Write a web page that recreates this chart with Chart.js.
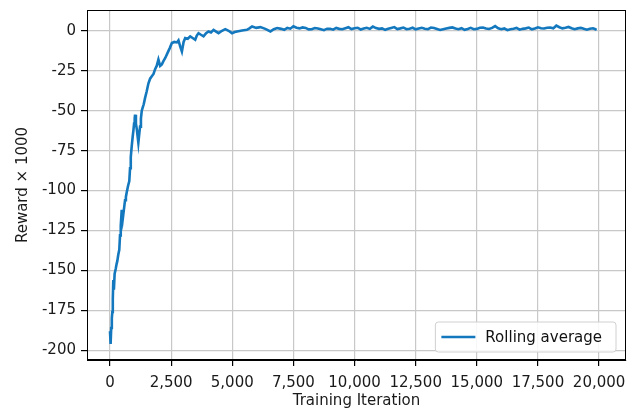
<!DOCTYPE html>
<html>
<head>
<meta charset="utf-8">
<script src="https://cdn.jsdelivr.net/npm/chart.js@4"></script>
<style>
  html, body { margin: 0; padding: 0; background: #fff; }
  #wrap { width: 638px; height: 414px; }
</style>
</head>
<body>
<div id="wrap"><canvas id="reward"></canvas></div>
<script>
// training iterations and the rolling average reward (x1000)
const iterations = [
  0, 25, 50, 75, 95, 115, 135, 160, 190, 233, 270, 300, 340, 380, 410, 440, 480, 520, 560, 615,
  650, 685, 740, 790, 820, 850, 890, 930, 960, 985, 1010, 1025, 1060, 1100, 1130, 1160, 1200, 1230, 1265, 1300,
  1340, 1380, 1435, 1500, 1570, 1640, 1710, 1780, 1845, 1910, 1980, 2050, 2120, 2185, 2260, 2350, 2440, 2530, 2630, 2735,
  2800, 2870, 2940, 3010, 3075, 3180, 3280, 3380, 3485, 3550, 3620, 3720, 3825, 3930, 4030, 4130, 4235, 4340, 4440, 4580,
  4715, 4850, 4990, 5100, 5195, 5400, 5600, 5700, 5810, 5980, 6150, 6350, 6560, 6700, 6835,
  7000, 7125, 7250, 7375, 7500, 7625, 7750, 7875, 8000, 8125, 8250, 8375, 8500, 8625, 8750, 8875,
  9000, 9125, 9250, 9375, 9500, 9625, 9750, 9875, 10000, 10125, 10250, 10375, 10500, 10625, 10750, 10875,
  11000, 11125, 11250, 11375, 11500, 11625, 11750, 11875, 12000, 12125, 12250, 12375, 12500, 12625, 12750, 12875,
  13000, 13125, 13250, 13375, 13500, 13625, 13750, 13875, 14000, 14125, 14250, 14375, 14500, 14625, 14750, 14875,
  15000, 15125, 15250, 15375, 15500, 15625, 15750, 15875, 16000, 16125, 16250, 16375, 16500, 16625, 16750, 16875,
  17000, 17125, 17250, 17375, 17500, 17625, 17750, 17875, 18000, 18125, 18250, 18375, 18500, 18625, 18750, 18875,
  19000, 19125, 19250, 19375, 19500, 19625, 19750, 19825, 19900
];
const rollingAvg = [
  -188, -196, -186, -180, -176, -168, -156, -162, -152, -149, -146, -144, -140, -137, -128, -122, -112, -118, -113, -106,
  -104, -101, -97, -94, -86, -79, -72, -66, -62, -58, -55, -52.5, -58, -62, -66, -70, -64, -60, -55, -50,
  -48, -46, -42, -38, -33, -30, -28.5, -27, -24, -22, -18, -22, -21, -19, -17, -14, -11, -7.7, -7, -7.3,
  -6, -9.8, -13, -7, -4.6, -5, -3.5, -4.5, -5.6, -3, -1.5, -2.5, -3.5, -1.5, -0.4, -1, 0.6, -0.5, -1.5, 0,
  1, 0, -1.5, -0.8, -0.4, 0.2, 0.6, 1.5, 2.7, 1.8, 2.3, 1.2, -0.4, 1, 1.7,
  1.2, 0.6, 1.8, 1.3, 2.8, 1.9, 1.5, 2.1, 1.8, 0.9, 1.0, 1.7, 1.4, 0.9, 0.4, 1.3,
  1.2, 0.7, 1.8, 1.2, 1.0, 1.6, 2.2, 1.1, 1.6, 1.9, 0.8, 1.4, 1.9, 1.2, 2.6, 1.7,
  1.2, 1.5, 0.6, 1.2, 1.8, 2.3, 1.1, 1.5, 2.0, 1.0, 1.3, 1.9, 0.9, 1.4, 1.9, 1.3,
  1.0, 2.0, 1.7, 1.1, 0.5, 1.0, 1.4, 1.8, 2.1, 1.4, 1.0, 1.6, 0.6, 1.1, 1.8, 1.0,
  1.2, 1.9, 2.0, 1.4, 1.1, 1.8, 2.9, 1.6, 1.0, 1.5, 0.4, 1.0, 1.3, 1.8, 0.7, 1.2,
  1.5, 2.0, 0.9, 1.4, 2.2, 1.6, 1.4, 1.9, 2.0, 1.5, 3.2, 2.2, 1.5, 1.9, 2.4, 1.6,
  1.0, 1.5, 1.8, 1.2, 0.7, 1.3, 1.6, 1.1, 0.6
];
const xTicks = [0, 2500, 5000, 7500, 10000, 12500, 15000, 17500, 20000];
const yTicks = [-200, -175, -150, -125, -100, -75, -50, -25, 0];

const points = iterations.map((it, i) => ({ x: it, y: rollingAvg[i] }));
const font = { family: 'DejaVu Sans', size: 15 };

// top/right spines + legend box in lower right of plot area
const frame = {
  id: 'frame',
  afterDraw(chart) {
    const ctx = chart.ctx;
    const a = chart.chartArea;
    ctx.save();
    ctx.strokeStyle = '#000';
    ctx.lineWidth = 1;
    ctx.strokeRect(a.left + 0.5, a.top + 0.5, a.right - a.left - 1, a.bottom - a.top - 1);

    const ds = chart.data.datasets[0];
    ctx.font = '15px "DejaVu Sans"';
    const tw = ctx.measureText(ds.label).width;
    const w = tw + 64, h = 30;
    const x = a.right - 10 - w, y = a.bottom - 8 - h;
    ctx.fillStyle = 'rgba(255,255,255,0.85)';
    ctx.strokeStyle = '#d0d0d0';
    ctx.beginPath();
    ctx.roundRect(x, y, w, h, 3);
    ctx.fill();
    ctx.stroke();
    ctx.strokeStyle = ds.borderColor;
    ctx.lineWidth = 2.5;
    ctx.beginPath();
    ctx.moveTo(x + 6, y + h / 2);
    ctx.lineTo(x + 40, y + h / 2);
    ctx.stroke();
    ctx.fillStyle = '#111';
    ctx.textBaseline = 'middle';
    ctx.fillText(ds.label, x + 50, y + h / 2 + 1);
    ctx.restore();
  }
};

new Chart(document.getElementById('reward'), {
  type: 'line',
  data: {
    datasets: [{
      label: 'Rolling average',
      data: points,
      borderColor: '#1378be',
      borderWidth: 2.6,
      pointRadius: 0,
      tension: 0,
      fill: false
    }]
  },
  options: {
    responsive: true,
    maintainAspectRatio: false,
    animation: false,
    layout: { padding: { top: 10, right: 12, left: 0, bottom: 0 } },
    plugins: {
      legend: { display: false },
      tooltip: { enabled: false }
    },
    scales: {
      x: {
        type: 'linear',
        min: -940,
        max: 21100,
        afterBuildTicks: s => { s.ticks = xTicks.map(v => ({ value: v })); },
        afterFit: s => { s.height = 54; },
        grid: { color: '#c8c8c8', lineWidth: 1.2, tickColor: '#000', tickLength: 6 },
        border: { color: '#000' },
        ticks: {
          font: font, color: '#1a1a1a', padding: 8, maxRotation: 0,
          callback: v => v.toLocaleString('en-US')
        },
        title: { display: true, text: 'Training Iteration', font: font, color: '#1a1a1a', padding: { top: 0, bottom: 4 } }
      },
      y: {
        min: -206,
        max: 13,
        afterBuildTicks: s => { s.ticks = yTicks.map(v => ({ value: v })); },
        afterFit: s => { s.width = 87; s.paddingTop = 0; s.paddingBottom = 0; },
        grid: { color: '#c8c8c8', lineWidth: 1.2, tickColor: '#000', tickLength: 6 },
        border: { color: '#000' },
        ticks: { font: font, color: '#1a1a1a', padding: 5, callback: v => String(v) },
        title: { display: true, text: 'Reward × 1000', font: font, color: '#1a1a1a', padding: { top: 14, bottom: 0 } }
      }
    }
  },
  plugins: [frame]
});
</script>
</body>
</html>
